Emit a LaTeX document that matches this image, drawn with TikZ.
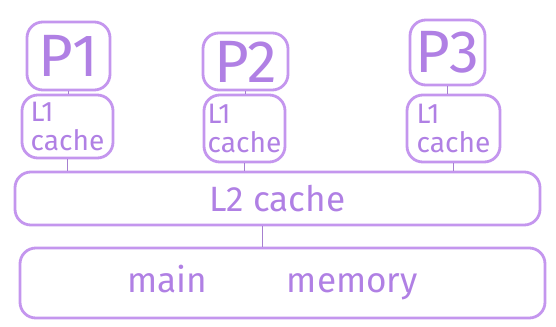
\documentclass[tikz,border=0pt]{standalone}
\usepackage{fontspec}
\setsansfont{Fira Sans}
\usepackage{tikz}
\definecolor{lav}{RGB}{196,150,238}
\definecolor{lavdark}{RGB}{176,128,228}

\begin{document}
\begin{tikzpicture}[
        box/.style={draw=lav, line width=1.6pt, rounded corners=9pt, inner sep=2pt},
        cpu/.style={box, font=\sffamily\fontsize{34}{34}\selectfont, text=lavdark},
        lone/.style={box, font=\sffamily\fontsize{16}{17}\selectfont, align=left, text=lavdark},
        bar/.style={box, minimum width=10.5cm, font=\sffamily\fontsize{20}{20}\selectfont, text=lavdark},
        wire/.style={lavdark!80!gray, line width=0.9pt}]
        \useasboundingbox (0,0) rectangle (11.12,6.52);
        % processors
        \node[cpu, minimum width=1.66cm, minimum height=1.36cm] (p1) at (1.37,5.40) {P1};
        \node[cpu, minimum width=1.70cm, minimum height=1.14cm] (p2) at (4.91,5.29) {P2};
        \node[cpu, minimum width=1.50cm, minimum height=1.30cm] (p3) at (8.95,5.47) {P3};
        % private caches
        \node[lone, minimum width=1.82cm, minimum height=1.26cm] (l1a) at (1.35,3.99) {L1\\cache};
        \node[lone, minimum width=1.62cm, minimum height=1.34cm] (l1b) at (4.89,3.95) {L1\\cache};
        \node[lone, minimum width=1.86cm, minimum height=1.34cm] (l1c) at (9.07,3.95) {L1\\cache};
        % shared levels
        \node[bar, minimum height=1.06cm] (l2) at (5.55,2.55) {L2 cache};
        \node[bar, minimum height=1.40cm] (mem) at (5.65,0.86) {\hspace{-0.4cm}main\hspace{1.6cm}memory};
        % links
        \foreach \p/\c in {p1/l1a, p2/l1b, p3/l1c} {
            \draw[wire] (\p.south) -- (\p.south |- \c.north);
            \draw[wire] (\c.south) -- (\c.south |- l2.north);
        }
        \draw[wire] ([xshift=-0.3cm]l2.south) -- ([xshift=-0.3cm]l2.south |- mem.north);
\end{tikzpicture}
\end{document}
